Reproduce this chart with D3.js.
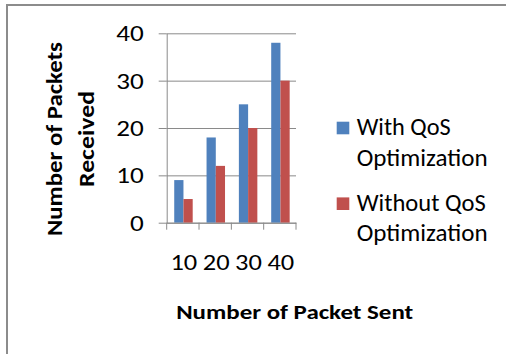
<!DOCTYPE html>
<html>
<head>
<meta charset="utf-8">
<script src="https://cdn.jsdelivr.net/npm/d3@7"></script>
<style>
  html, body { margin: 0; padding: 0; background: #fff; }
  svg { display: block; }
  text { font-family: Carlito, Calibri, Lato, "Open Sans", sans-serif; fill: #000; }
</style>
</head>
<body>
<svg id="chart" width="506" height="354"></svg>
<script>
// Packets sent (categories) and packets received for each configuration
const categories = ["10", "20", "30", "40"];
const seriesNames = ["With QoS Optimization", "Without QoS Optimization"];
const withQoS = [9, 18, 25, 38];
const withoutQoS = [5, 12, 20, 30];
const yTicks = [0, 10, 20, 30, 40];
const legendLines = [["With QoS", "Optimization"], ["Without QoS", "Optimization"]];
const colors = ["#4F81BD", "#C0504D"];
const FONT = "Carlito, Calibri, Lato, 'Open Sans', sans-serif";

const svg = d3.select("#chart");

// Widen glyphs horizontally by a factor, keeping their height
function widen(sel, factor) {
  sel.each(function () {
    const w = this.getComputedTextLength();
    d3.select(this).attr("textLength", w * factor).attr("lengthAdjust", "spacingAndGlyphs");
  });
}
function fitWidth(sel, width) {
  sel.attr("textLength", width).attr("lengthAdjust", "spacingAndGlyphs");
}

// Frame around the chart area
svg.append("rect")
  .attr("x", 7).attr("y", 5)
  .attr("width", 520).attr("height", 370)
  .attr("fill", "#fff")
  .attr("stroke", "#8c8c8c")
  .attr("stroke-width", 2);

const plot = { left: 166.7, right: 296, top: 33.3, bottom: 222.7 };

const x = d3.scaleBand()
  .domain(categories)
  .range([plot.left, plot.right])
  .paddingInner(0).paddingOuter(0);

const xSub = d3.scaleBand()
  .domain(seriesNames)
  .range([0, x.bandwidth()])
  .paddingInner(0).paddingOuter(0.75);

const y = d3.scaleLinear()
  .domain([0, 40])
  .range([plot.bottom, plot.top]);

const rows = categories.map((c, i) => ({ cat: c, values: [withQoS[i], withoutQoS[i]] }));

// Horizontal gridlines
const grid = svg.append("g")
  .attr("transform", `translate(${plot.left},0)`)
  .call(d3.axisLeft(y).tickValues(yTicks)
    .tickSize(-(plot.right - plot.left)).tickSizeOuter(0).tickFormat(""));
grid.select(".domain").remove();
grid.selectAll("line").attr("stroke", "#8a8a8a").attr("stroke-width", 1);

// Y axis: outward ticks and labels
const yAxis = svg.append("g")
  .attr("transform", `translate(${plot.left},0)`)
  .call(d3.axisLeft(y).tickValues(yTicks).tickSize(8).tickSizeOuter(0).tickPadding(15));
yAxis.select(".domain").attr("stroke", "#8a8a8a");
yAxis.selectAll("line").attr("stroke", "#8a8a8a");
yAxis.selectAll("text")
  .attr("font-size", 23)
  .attr("fill", "#222")
  .style("font-family", FONT);
widen(yAxis.selectAll("text"), 1.18);

// Bars
svg.append("g").selectAll("g")
  .data(rows)
  .join("g")
  .attr("transform", d => `translate(${x(d.cat) + 0.6},0)`)
  .selectAll("rect")
  .data(d => d.values.map((v, j) => ({ name: seriesNames[j], v, j })))
  .join("rect")
  .attr("x", d => xSub(d.name))
  .attr("width", xSub.bandwidth())
  .attr("y", d => y(d.v))
  .attr("height", d => y(0) - y(d.v))
  .attr("fill", d => colors[d.j]);

// X axis: baseline and category separators
const xAxis = svg.append("g")
  .attr("transform", `translate(0,${plot.bottom})`)
  .call(d3.axisBottom(x).tickSize(0).tickSizeOuter(0).tickPadding(31));
xAxis.select(".domain").attr("stroke", "#8a8a8a");
xAxis.selectAll("text")
  .attr("font-size", 23)
  .attr("fill", "#222")
  .attr("dx", 1)
  .style("font-family", FONT);
widen(xAxis.selectAll("text"), 1.15);

const sepPositions = categories.map(c => x(c)).concat([x.range()[1]]);
xAxis.selectAll("line.sep")
  .data(sepPositions)
  .join("line")
  .attr("class", "sep")
  .attr("x1", d => d).attr("x2", d => d)
  .attr("y1", 0).attr("y2", 7)
  .attr("stroke", "#8a8a8a");

// Axis titles
const xTitle = svg.append("text")
  .attr("x", 294.7).attr("y", 319.3)
  .attr("text-anchor", "middle")
  .attr("font-size", 21)
  .attr("font-weight", "bold")
  .text("Number of Packet Sent");
fitWidth(xTitle, 237);

const yTitle = svg.append("text")
  .attr("transform", "translate(62,139) rotate(-90)")
  .attr("text-anchor", "middle")
  .attr("font-size", 22)
  .attr("font-weight", "bold");
fitWidth(yTitle.append("tspan").attr("x", 0).attr("y", 0).text("Number of Packets"), 194);
fitWidth(yTitle.append("tspan").attr("x", 0).attr("y", 31.5).text("Received"), 96);

// Legend
const legendWidths = [[94, 131], [129, 131]];
const legendItems = svg.append("g").selectAll("g")
  .data(seriesNames)
  .join("g")
  .attr("transform", (d, i) => `translate(336.7,${121.7 + i * 75.7})`);
legendItems.append("rect")
  .attr("width", 12.6).attr("height", 12.6)
  .attr("fill", (d, i) => colors[i]);
legendItems.each(function (d, i) {
  const g = d3.select(this);
  legendLines[i].forEach((line, k) => {
    const t = g.append("text")
      .attr("x", 20).attr("y", 13.3 + k * 30.7)
      .attr("font-size", 24)
      .attr("fill", "#222")
      .text(line);
    fitWidth(t, legendWidths[i][k]);
  });
});
</script>
</body>
</html>
